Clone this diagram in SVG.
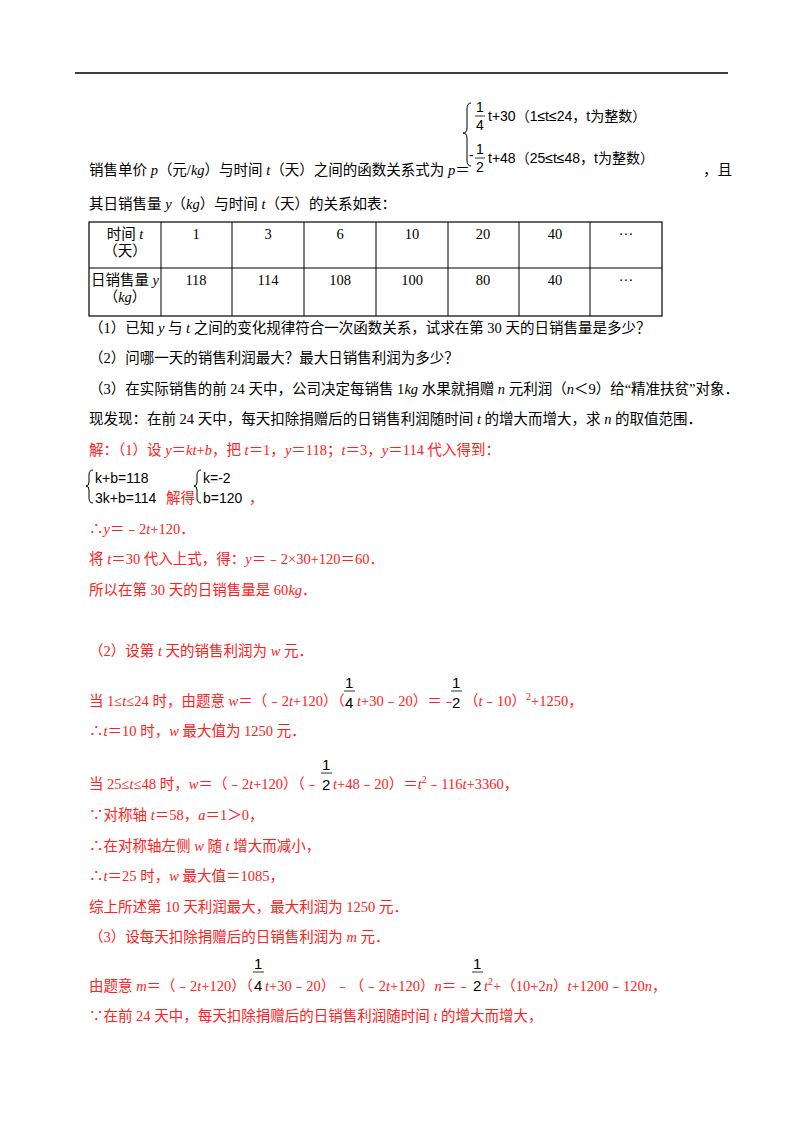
<svg xmlns="http://www.w3.org/2000/svg" width="800" height="1132" viewBox="0 0 800 1132">
<style>
text{font-family:"Liberation Serif","Noto Sans CJK SC",serif;font-size:14.5px;fill:#000}
.r{fill:#ff2020}
.i{font-style:italic}
.m{font-family:"Liberation Sans","Noto Sans CJK SC",sans-serif;font-size:14px}
.f{font-family:"Liberation Sans",sans-serif;font-size:15px;fill:#000}
.c{text-anchor:middle}
line,path{stroke:#000;fill:none}
</style>
<rect width="800" height="1132" fill="#fff"/>
<line x1="75" y1="73" x2="728" y2="73" stroke-width="1.5"/>
<g id="formula">
<path d="M471 103 Q467 103 467 109 L467 128 Q467 133 463 133 Q467 133 467 138 L467 160 Q467 166 471 166"/>
<text class="m" x="476" y="112">1</text><line x1="475" y1="116" x2="485" y2="116" stroke-width="0.8"/><text class="m" x="476" y="130">4</text>
<text class="m" x="488" y="121" font-size="15.5">t+30（1≤t≤24，t为整数）</text>
<text class="m" x="476" y="154">1</text><text class="m" x="469" y="160">-</text><line x1="475" y1="158" x2="485" y2="158" stroke-width="0.8"/><text class="m" x="476" y="172">2</text>
<text class="m" x="488" y="163" font-size="15.5">t+48（25≤t≤48，t为整数）</text>
</g>
<text x="89" y="175">销售单价 <tspan class="i">p</tspan>（元/<tspan class="i">kg</tspan>）与时间 <tspan class="i">t</tspan>（天）之间的函数关系式为 <tspan class="i">p</tspan>＝</text>
<text x="703" y="175">，且</text>
<text x="89" y="209">其日销售量 <tspan class="i">y</tspan>（<tspan class="i">kg</tspan>）与时间 <tspan class="i">t</tspan>（天）的关系如表：</text>
<g id="table">
<rect x="89" y="222" width="573" height="94" stroke="#000" fill="none" stroke-width="1.2"/>
<line x1="89" y1="268" x2="662" y2="268"/>
<line x1="161" y1="222" x2="161" y2="316"/><line x1="232" y1="222" x2="232" y2="316"/><line x1="304" y1="222" x2="304" y2="316"/><line x1="376" y1="222" x2="376" y2="316"/><line x1="448" y1="222" x2="448" y2="316"/><line x1="519" y1="222" x2="519" y2="316"/><line x1="590" y1="222" x2="590" y2="316"/>
<text class="c" x="125" y="239">时间 <tspan class="i">t</tspan></text><text class="c" x="125" y="256">（天）</text>
<text class="c" x="125" y="285">日销售量 <tspan class="i">y</tspan></text><text class="c" x="125" y="302">（<tspan class="i">kg</tspan>）</text>
<text class="c" x="196" y="239">1</text><text class="c" x="268" y="239">3</text><text class="c" x="340" y="239">6</text><text class="c" x="412" y="239">10</text><text class="c" x="483" y="239">20</text><text class="c" x="555" y="239">40</text><text class="c" x="626" y="239">···</text>
<text class="c" x="196" y="285">118</text><text class="c" x="268" y="285">114</text><text class="c" x="340" y="285">108</text><text class="c" x="412" y="285">100</text><text class="c" x="483" y="285">80</text><text class="c" x="555" y="285">40</text><text class="c" x="626" y="285">···</text>
</g>
<text x="89" y="333">（1）已知 <tspan class="i">y</tspan> 与 <tspan class="i">t</tspan> 之间的变化规律符合一次函数关系，试求在第 30 天的日销售量是多少？</text>
<text x="89" y="363">（2）问哪一天的销售利润最大？最大日销售利润为多少？</text>
<text x="89" y="394">（3）在实际销售的前 24 天中，公司决定每销售 1<tspan class="i">kg</tspan> 水果就捐赠 <tspan class="i">n</tspan> 元利润（<tspan class="i">n</tspan>＜9）给“精准扶贫”对象．</text>
<text x="89" y="424">现发现：在前 24 天中，每天扣除捐赠后的日销售利润随时间 <tspan class="i">t</tspan> 的增大而增大，求 <tspan class="i">n</tspan> 的取值范围．</text>
<text class="r" x="89" y="455">解：（1）设 <tspan class="i">y</tspan>＝<tspan class="i">kt</tspan>+<tspan class="i">b</tspan>，把 <tspan class="i">t</tspan>＝1，<tspan class="i">y</tspan>＝118；<tspan class="i">t</tspan>＝3，<tspan class="i">y</tspan>＝114 代入得到：</text>
<g id="system">
<path d="M93 470 Q89 470 89 475 L89 482 Q89 486 86 486 Q89 486 89 490 L89 498 Q89 503 93 503"/>
<text class="m" x="95" y="483">k+b=118</text><text class="m" x="95" y="503">3k+b=114</text>
<text class="r" x="166" y="503">解得</text>
<path d="M201 470 Q197 470 197 475 L197 482 Q197 486 194 486 Q197 486 197 490 L197 498 Q197 503 201 503"/>
<text class="m" x="203" y="483">k=-2</text><text class="m" x="203" y="503">b=120</text><text class="r" x="249" y="503">，</text>
</g>
<text class="r" x="89" y="534">∴<tspan class="i">y</tspan>＝﹣2<tspan class="i">t</tspan>+120．</text>
<text class="r" x="89" y="564">将 <tspan class="i">t</tspan>＝30 代入上式，得：<tspan class="i">y</tspan>＝﹣2×30+120＝60．</text>
<text class="r" x="89" y="595">所以在第 30 天的日销售量是 60<tspan class="i">kg</tspan>．</text>
<text class="r" x="89" y="656">（2）设第 <tspan class="i">t</tspan> 天的销售利润为 <tspan class="i">w</tspan> 元．</text>
<g id="frac-w1">
<text class="f" x="345" y="688">1</text><line x1="344" y1="691" x2="355" y2="691" stroke-width="0.8"/><text class="f" x="345" y="708">4</text>
<text class="f" x="452" y="688">1</text><line x1="451" y1="691" x2="462" y2="691" stroke-width="0.8"/><text class="f" x="452" y="708">2</text>
</g>
<text class="r" x="89" y="706">当 1≤<tspan class="i">t</tspan>≤24 时，由题意 <tspan class="i">w</tspan>＝（﹣2<tspan class="i">t</tspan>+120）（</text>
<text class="r" x="357" y="706"><tspan class="i">t</tspan>+30﹣20）＝﹣</text>
<text class="r" x="464" y="706">（<tspan class="i">t</tspan>﹣10）<tspan dy="-6" font-size="10">2</tspan><tspan dy="6">+1250，</tspan></text>
<text class="r" x="89" y="736">∴<tspan class="i">t</tspan>＝10 时，<tspan class="i">w</tspan> 最大值为 1250 元．</text>
<g id="frac-w2">
<text class="f" x="322" y="770">1</text><line x1="321" y1="773" x2="332" y2="773" stroke-width="0.8"/><text class="f" x="322" y="790">2</text>
</g>
<text class="r" x="89" y="789">当 25≤<tspan class="i">t</tspan>≤48 时，<tspan class="i">w</tspan>＝（﹣2<tspan class="i">t</tspan>+120）（﹣</text>
<text class="r" x="333" y="789"><tspan class="i">t</tspan>+48﹣20）＝<tspan class="i">t</tspan><tspan dy="-6" font-size="10">2</tspan><tspan dy="6">﹣116</tspan><tspan class="i">t</tspan>+3360，</text>
<text class="r" x="89" y="820">∵对称轴 <tspan class="i">t</tspan>＝58，<tspan class="i">a</tspan>＝1＞0，</text>
<text class="r" x="89" y="851">∴在对称轴左侧 <tspan class="i">w</tspan> 随 <tspan class="i">t</tspan> 增大而减小，</text>
<text class="r" x="89" y="881">∴<tspan class="i">t</tspan>＝25 时，<tspan class="i">w</tspan> 最大值＝1085，</text>
<text class="r" x="89" y="912">综上所述第 10 天利润最大，最大利润为 1250 元．</text>
<text class="r" x="89" y="942">（3）设每天扣除捐赠后的日销售利润为 <tspan class="i">m</tspan> 元．</text>
<g id="frac-m">
<text class="f" x="254" y="969">1</text><line x1="253" y1="972" x2="264" y2="972" stroke-width="0.8"/><text class="f" x="254" y="991">4</text>
<text class="f" x="473" y="969">1</text><line x1="472" y1="972" x2="483" y2="972" stroke-width="0.8"/><text class="f" x="473" y="991">2</text>
</g>
<text class="r" x="89" y="991">由题意 <tspan class="i">m</tspan>＝（﹣2<tspan class="i">t</tspan>+120）（</text>
<text class="r" x="265" y="991"><tspan class="i">t</tspan>+30﹣20）﹣（﹣2<tspan class="i">t</tspan>+120）<tspan class="i">n</tspan>＝﹣</text>
<text class="r" x="484" y="991"><tspan class="i">t</tspan><tspan dy="-6" font-size="10">2</tspan><tspan dy="6">+（10+2</tspan><tspan class="i">n</tspan>）<tspan class="i">t</tspan>+1200﹣120<tspan class="i">n</tspan>，</text>
<text class="r" x="89" y="1021">∵在前 24 天中，每天扣除捐赠后的日销售利润随时间 <tspan class="i">t</tspan> 的增大而增大，</text>
</svg>
